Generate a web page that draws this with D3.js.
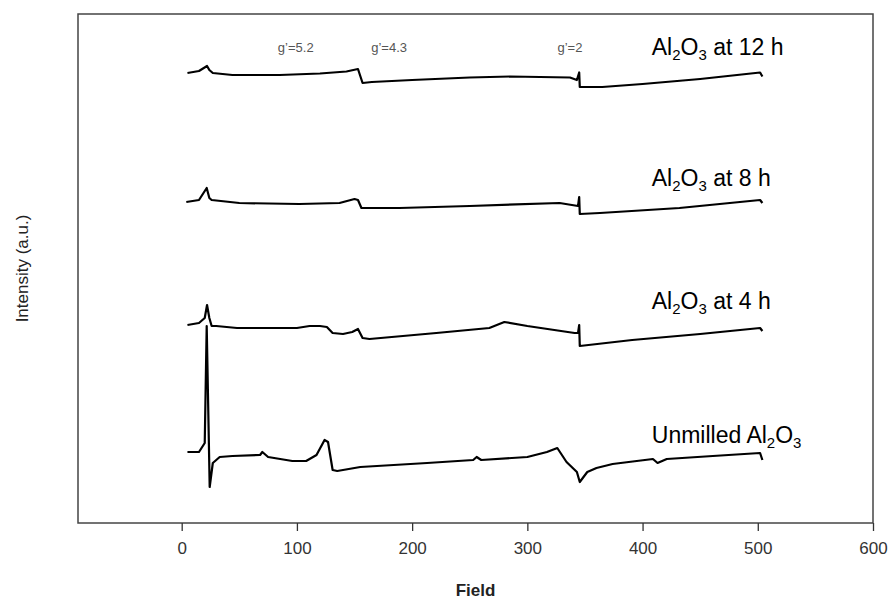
<!DOCTYPE html>
<html>
<head>
<meta charset="utf-8">
<script src="https://cdn.jsdelivr.net/npm/d3@7"></script>
<style>
  body { margin: 0; background: #fff; }
  svg { display: block; }
</style>
</head>
<body>
<div id="chart"></div>
<script>
// EPR spectra: [field, intensity (a.u.)]
var series12h = [[5, 450], [15, 452], [22, 457], [24, 453], [27, 450], [44, 448], [85, 448], [120, 449.5],
    [143, 451.5], [153, 454], [155, 447], [157, 440], [165, 441], [200, 443], [250, 445.5], [285, 446.5],
    [337, 445.5], [343, 443], [345, 450.5], [345.5, 436], [365, 436], [400, 439], [450, 444], [502, 450.5], [504, 446.5]];

var series8h = [[4, 321], [15, 323], [21.7, 335], [24, 325], [26, 323], [50, 320], [102, 319], [137, 320],
    [150, 324], [153, 323], [156, 315], [189, 315], [250, 317], [328, 320], [344, 317], [345, 326],
    [345.5, 309], [363, 310], [432, 315], [502, 323], [504, 320]];

var series4h = [[5, 198], [15, 200], [20, 205], [22, 218], [24, 205], [26, 197], [30, 197], [48, 195], [70, 195],
    [100, 195], [111, 197], [120, 197], [126, 196], [131, 190], [140, 189], [148, 191], [153, 194], [157, 185],
    [163, 184], [192, 187], [221, 190], [267, 195], [280, 201], [300, 197], [341, 190], [344, 190], [345, 198],
    [345.5, 177], [391, 183], [450, 189], [502, 195], [504, 192]];

var seriesUnmilled = [[5, 71], [15, 71], [20, 80], [21.7, 197], [24.3, 36], [27, 60], [33, 66], [44, 67], [68, 68],
    [70, 71], [75, 66], [96, 62], [108, 62], [117, 68], [124, 83], [127, 81], [131, 53], [135, 52], [155, 56],
    [213, 60], [253, 63], [256, 66], [260, 63], [300, 66], [317, 71], [326, 75], [334, 61], [343, 51],
    [345.5, 41], [352, 51], [360, 55], [374, 59], [409, 64], [413, 60], [421, 64], [461, 67], [502, 70], [504, 63]];

var xTicks = [0, 100, 200, 300, 400, 500, 600];

// g' markers: label, field position
var gLabels = [["g\u2019=5.2", 99], ["g\u2019=4.3", 180], ["g\u2019=2", 337]];

// series labels: text parts (single digits are subscripts), intensity of the baseline
var seriesLabels = [
    { parts: ["Al", "2", "O", "3", " at 12 h"], y: 468 },
    { parts: ["Al", "2", "O", "3", " at 8 h"], y: 337 },
    { parts: ["Al", "2", "O", "3", " at 4 h"], y: 214 },
    { parts: ["Unmilled Al", "2", "O", "3"], y: 80 }
];

var width = 891, height = 601;
var plot = { left: 78, right: 873, top: 14, bottom: 523 };

var svg = d3.select("#chart").append("svg")
    .attr("width", width)
    .attr("height", height);

var x = d3.scaleLinear().domain([-90, 600]).range([plot.left, plot.right]);
var y = d3.scaleLinear().domain([0, 509]).range([plot.bottom, plot.top]);

// frame
svg.append("rect")
    .attr("x", plot.left)
    .attr("y", plot.top)
    .attr("width", plot.right - plot.left)
    .attr("height", plot.bottom - plot.top)
    .attr("fill", "none")
    .attr("stroke", "#444")
    .attr("stroke-width", 1.5);

var xAxis = svg.append("g")
    .attr("transform", "translate(0," + plot.bottom + ")")
    .call(d3.axisBottom(x).tickValues(xTicks).tickSize(8).tickPadding(11));

xAxis.select(".domain").remove();
xAxis.selectAll(".tick line").attr("stroke", "#333").attr("stroke-width", 1.3);
xAxis.selectAll(".tick text")
    .attr("font-family", "'Liberation Sans Narrow', 'Liberation Sans', Arial, sans-serif")
    .attr("font-size", "17px")
    .attr("fill", "#333");

svg.append("text")
    .attr("x", (plot.left + plot.right) / 2)
    .attr("y", 596)
    .attr("text-anchor", "middle")
    .attr("font-family", "'Liberation Sans', Arial, sans-serif")
    .attr("font-weight", "bold")
    .attr("font-size", "17px")
    .attr("fill", "#222")
    .text("Field");

svg.append("text")
    .attr("transform", "translate(28," + ((plot.top + plot.bottom) / 2) + ") rotate(-90)")
    .attr("text-anchor", "middle")
    .attr("font-family", "'Liberation Sans', Arial, sans-serif")
    .attr("font-size", "17px")
    .attr("fill", "#222")
    .text("Intensity (a.u.)");

var line = d3.line()
    .x(function (d) { return x(d[0]); })
    .y(function (d) { return y(d[1]); });

[series12h, series8h, series4h, seriesUnmilled].forEach(function (s) {
    svg.append("path")
        .datum(s)
        .attr("d", line)
        .attr("fill", "none")
        .attr("stroke", "#000")
        .attr("stroke-width", 2.2)
        .attr("stroke-linejoin", "round");
});

svg.selectAll(".glabel")
    .data(gLabels)
    .enter().append("text")
    .attr("class", "glabel")
    .attr("x", function (d) { return x(d[1]); })
    .attr("y", 52)
    .attr("text-anchor", "middle")
    .attr("font-family", "'Liberation Sans', Arial, sans-serif")
    .attr("font-size", "13px")
    .attr("fill", "#555")
    .text(function (d) { return d[0]; });

seriesLabels.forEach(function (lab) {
    var t = svg.append("text")
        .attr("x", x(408))
        .attr("y", y(lab.y))
        .attr("font-family", "'Liberation Sans', Arial, sans-serif")
        .attr("font-size", "23px")
        .attr("fill", "#000");
    lab.parts.forEach(function (p, i) {
        var sub = /^[0-9]$/.test(p);
        t.append("tspan")
            .attr("font-size", sub ? "15px" : "23px")
            .attr("dy", sub ? "5" : (i === 0 ? "0" : "-5"))
            .text(p);
    });
});
</script>
</body>
</html>
